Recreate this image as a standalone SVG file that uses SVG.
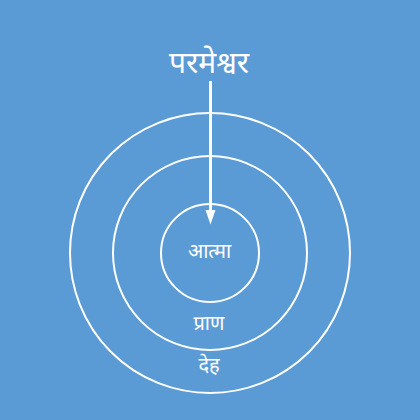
<svg xmlns="http://www.w3.org/2000/svg" width="420" height="420" viewBox="0 0 420 420">
<defs>
<style>
.ring{fill:none;stroke:#fff;stroke-width:2}
.lbl{fill:#fff;font-family:"Noto Sans Devanagari","Noto Sans","DejaVu Sans",sans-serif;text-anchor:middle}
.arrow{stroke:#fff;stroke-width:3}
.head{fill:#fff}
</style>
</defs>
<rect width="420" height="420" fill="#5b9bd5"/>
<g id="deha"><circle class="ring" cx="210" cy="253" r="140"/><text class="lbl" x="209" y="372" font-size="20">देह</text></g>
<g id="prana"><circle class="ring" cx="210" cy="253" r="97"/><text class="lbl" x="209" y="330" font-size="20">प्राण</text></g>
<g id="atma"><circle class="ring" cx="210" cy="253" r="49"/><text class="lbl" x="209.5" y="258" font-size="20">आत्मा</text></g>
<g id="parameshvara"><text class="lbl" x="209" y="73" font-size="30">परमेश्वर</text></g>
<g id="connectors">
<line class="arrow" x1="210.5" y1="81" x2="210.5" y2="210"/>
<path class="head" d="M205.5,210 L215.5,210 L210.5,224.5 Z"/>
</g>
</svg>
